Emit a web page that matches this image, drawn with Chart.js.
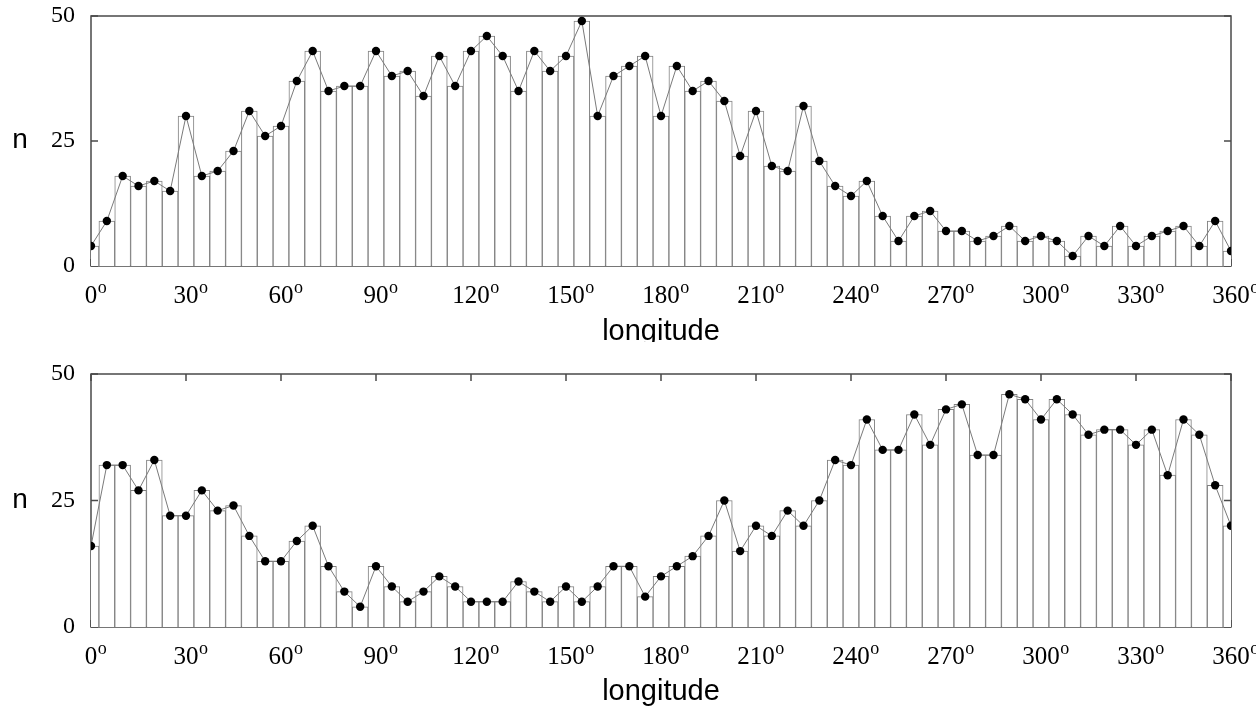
<!DOCTYPE html>
<html>
<head>
<meta charset="utf-8">
<script src="https://cdn.jsdelivr.net/npm/chart.js@4.4.1/dist/chart.umd.min.js"></script>
<style>
  html, body { margin: 0; padding: 0; background: #fff; }
  #wrap { position: relative; width: 1256px; height: 706px; overflow: hidden; }
  .panel { position: absolute; left: 0; width: 1256px; }
  #p1 { top: 0; height: 342px; }
  #p2 { top: 342px; height: 364px; }
</style>
</head>
<body>
<div id="wrap">
  <div class="panel" id="p1"><canvas id="topChart"></canvas></div>
  <div class="panel" id="p2"><canvas id="bottomChart"></canvas></div>
</div>
<script>
// bin centres, degrees of longitude
const longitudes = [0, 5, 10, 15, 20, 25, 30, 35, 40, 45, 50, 55, 60, 65, 70, 75, 80, 85, 90,
  95, 100, 105, 110, 115, 120, 125, 130, 135, 140, 145, 150, 155, 160, 165, 170, 175, 180,
  185, 190, 195, 200, 205, 210, 215, 220, 225, 230, 235, 240, 245, 250, 255, 260, 265, 270,
  275, 280, 285, 290, 295, 300, 305, 310, 315, 320, 325, 330, 335, 340, 345, 350, 355, 360];

const countsTop = [4, 9, 18, 16, 17, 15, 30, 18, 19, 23, 31, 26, 28, 37, 43, 35, 36, 36, 43,
  38, 39, 34, 42, 36, 43, 46, 42, 35, 43, 39, 42, 49, 30, 38, 40, 42, 30,
  40, 35, 37, 33, 22, 31, 20, 19, 32, 21, 16, 14, 17, 10, 5, 10, 11, 7,
  7, 5, 6, 8, 5, 6, 5, 2, 6, 4, 8, 4, 6, 7, 8, 4, 9, 3];

const countsBottom = [16, 32, 32, 27, 33, 22, 22, 27, 23, 24, 18, 13, 13, 17, 20, 12, 7, 4, 12,
  8, 5, 7, 10, 8, 5, 5, 5, 9, 7, 5, 8, 5, 8, 12, 12, 6, 10,
  12, 14, 18, 25, 15, 20, 18, 23, 20, 25, 33, 32, 41, 35, 35, 42, 36, 43,
  44, 34, 34, 46, 45, 41, 45, 42, 38, 39, 39, 36, 39, 30, 41, 38, 28, 20];

const xTicks = [0, 30, 60, 90, 120, 150, 180, 210, 240, 270, 300, 330, 360];
const yTicks = [0, 25, 50];

const serif = "'Liberation Serif', 'Times New Roman', serif";
const sans = "'Liberation Sans', Arial, sans-serif";

// frame with inward tick marks, drawn under the data
const framePlugin = {
  id: 'frame',
  beforeDatasetsDraw(chart, args, opts) {
    const { ctx, chartArea: a, scales: { x, y } } = chart;
    ctx.save();
    ctx.strokeStyle = '#4a4a4a';
    ctx.lineWidth = 1.5;
    ctx.strokeRect(a.left, a.top, a.right - a.left, a.bottom - a.top);
    ctx.beginPath();
    xTicks.forEach(v => {
      const px = x.getPixelForValue(v);
      ctx.moveTo(px, a.bottom);
      ctx.lineTo(px, a.bottom - 7);
      if (opts.topTicks) {
        ctx.moveTo(px, a.top);
        ctx.lineTo(px, a.top + 7);
      }
    });
    yTicks.forEach(v => {
      const py = y.getPixelForValue(v);
      ctx.moveTo(a.left, py);
      ctx.lineTo(a.left + 7, py);
      ctx.moveTo(a.right, py);
      ctx.lineTo(a.right - 7, py);
    });
    ctx.stroke();
    ctx.restore();
  },
  afterDraw(chart) {
    const { ctx, chartArea: a, scales: { x, y } } = chart;
    ctx.save();
    ctx.fillStyle = '#000';
    // superscript "o" after each longitude label
    ctx.font = '25px ' + serif;
    const widths = xTicks.map(v => ctx.measureText(String(v)).width);
    ctx.font = '18px ' + serif;
    ctx.textAlign = 'left';
    ctx.textBaseline = 'alphabetic';
    xTicks.forEach((v, i) => {
      const px = x.getPixelForValue(v);
      ctx.fillText('o', px + widths[i] / 2 + 0.5, a.bottom + 27);
    });
    // "n" axis label, upright
    ctx.font = '28px ' + sans;
    ctx.textAlign = 'center';
    ctx.fillText('n', 20, y.getPixelForValue(25) + 7);
    ctx.restore();
  }
};

function makeChart(id, counts, padTop, axisHeight, titlePad, topTicks) {
  const ctx = document.getElementById(id).getContext('2d');
  return new Chart(ctx, {
    type: 'bar',
    data: {
      datasets: [
        {
          type: 'line',
          data: longitudes.map((lon, i) => ({ x: lon, y: counts[i] })),
          borderColor: '#7a7a7a',
          borderWidth: 1,
          tension: 0,
          pointRadius: 4.2,
          pointBackgroundColor: '#000',
          pointBorderWidth: 0,
          order: 0,
        },
        {
          type: 'bar',
          data: longitudes.map((lon, i) => ({ x: lon, y: counts[i] })),
          backgroundColor: '#fff',
          borderColor: '#808080',
          borderWidth: 1,
          borderSkipped: 'bottom',
          categoryPercentage: 1,
          barPercentage: 1,
          clip: 0,
          order: 1,
        },
      ],
    },
    options: {
      responsive: true,
      maintainAspectRatio: false,
      animation: false,
      layout: { padding: { top: padTop, right: 25, left: 0, bottom: 0 } },
      plugins: {
        legend: { display: false },
        tooltip: { enabled: false },
        frame: { topTicks },
      },
      scales: {
        x: {
          type: 'linear',
          min: 0,
          max: 360,
          offset: false,
          afterBuildTicks: s => { s.ticks = xTicks.map(v => ({ value: v })); },
          afterFit: s => {
            s.height = axisHeight;
            s.paddingLeft = 0;
            s.paddingRight = 0;
          },
          grid: { display: false, drawTicks: false },
          border: { display: false },
          ticks: {
            maxRotation: 0,
            autoSkip: false,
            padding: 15,
            color: '#000',
            font: { family: serif, size: 25 },
          },
          title: {
            display: true,
            text: 'longitude',
            color: '#000',
            font: { family: sans, size: 29, lineHeight: 0.6 },
            padding: { top: 0, bottom: titlePad },
          },
        },
        y: {
          min: 0,
          max: 50,
          afterBuildTicks: s => { s.ticks = yTicks.map(v => ({ value: v })); },
          afterFit: s => {
            s.width = 91;
            s.paddingTop = 0;
            s.paddingBottom = 0;
          },
          grid: { display: false, drawTicks: false },
          border: { display: false },
          ticks: {
            padding: 16,
            color: '#000',
            font: { family: serif, size: 24 },
          },
        },
      },
    },
    plugins: [framePlugin],
  });
}

makeChart('topChart', countsTop, 16, 76, 1, false);
makeChart('bottomChart', countsBottom, 32, 79, 5, true);
</script>
</body>
</html>
